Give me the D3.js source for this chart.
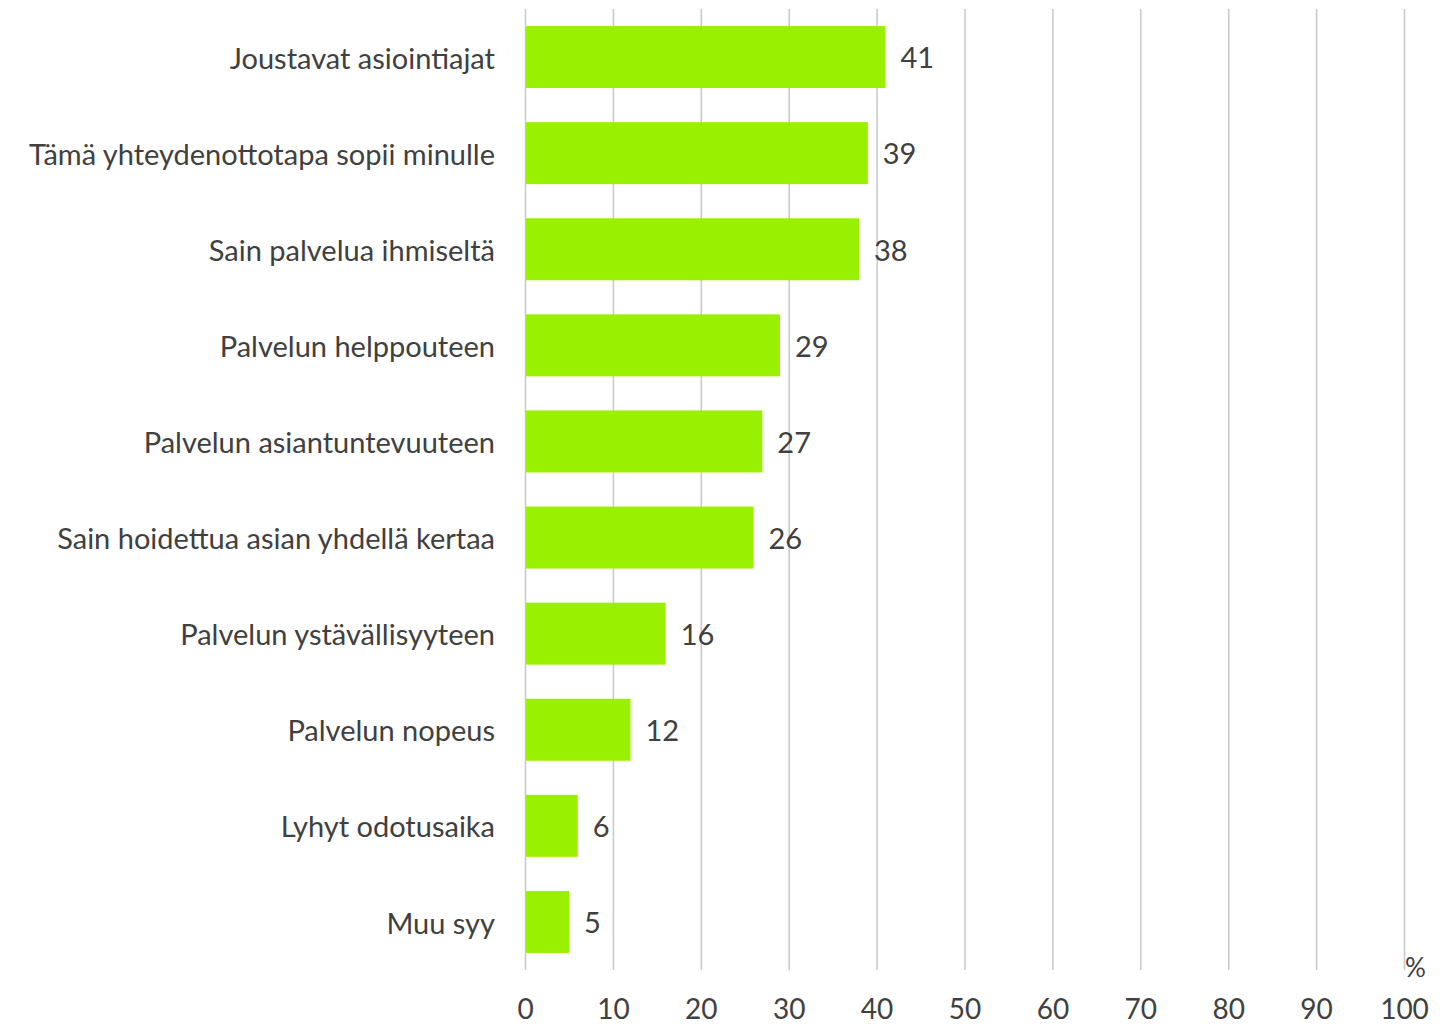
<!DOCTYPE html>
<html>
<head>
<meta charset="utf-8">
<script src="https://cdn.jsdelivr.net/npm/d3@7"></script>
<style>
  body { margin: 0; background: #fff; }
  text { font-family: Lato, "Open Sans", sans-serif; fill: #404040; }
</style>
</head>
<body>
<script>
const categories = [
  'Joustavat asiointiajat',
  'Tämä yhteydenottotapa sopii minulle',
  'Sain palvelua ihmiseltä',
  'Palvelun helppouteen',
  'Palvelun asiantuntevuuteen',
  'Sain hoidettua asian yhdellä kertaa',
  'Palvelun ystävällisyyteen',
  'Palvelun nopeus',
  'Lyhyt odotusaika',
  'Muu syy'
];
const values = [41, 39, 38, 29, 27, 26, 16, 12, 6, 5];
const ticks = [0, 10, 20, 30, 40, 50, 60, 70, 80, 90, 100];

const svgWidth = 1441;
const svgHeight = 1026;
const margin = { top: 9, right: 37, bottom: 56, left: 525 };
const width = svgWidth - margin.left - margin.right;
const height = svgHeight - margin.top - margin.bottom;
const fontSize = 29;

const svg = d3.select('body').append('svg')
  .attr('width', svgWidth)
  .attr('height', svgHeight)
  .append('g')
  .attr('transform', `translate(${margin.left}, ${margin.top})`);

const x = d3.scaleLinear().domain([0, 100]).range([0, width]);
const y = d3.scaleBand().domain(categories).range([0, height]).paddingInner(0.355).paddingOuter(0.1775);

// gridlines
svg.selectAll('.grid')
  .data(ticks)
  .enter()
  .append('line')
  .attr('x1', d => x(d) + 0.5)
  .attr('x2', d => x(d) + 0.5)
  .attr('y1', 0)
  .attr('y2', height)
  .attr('stroke', '#c8c8c8')
  .attr('stroke-width', 1.5);

svg.selectAll('.bar')
  .data(values)
  .enter()
  .append('rect')
  .attr('x', x(0) + 1)
  .attr('y', (d, i) => y(categories[i]))
  .attr('width', d => x(d) - x(0) - 1)
  .attr('height', y.bandwidth())
  .attr('fill', '#99f000');

// value labels
svg.selectAll('.val')
  .data(values)
  .enter()
  .append('text')
  .attr('x', d => x(d) + 15)
  .attr('y', (d, i) => y(categories[i]) + y.bandwidth() / 2 + 4)
  .attr('dominant-baseline', 'middle')
  .style('font-size', fontSize + 'px')
  .text(d => d);

// category labels
const yAxis = svg.append('g').call(d3.axisLeft(y).tickSize(0).tickPadding(30));
yAxis.select('.domain').remove();
yAxis.selectAll('text')
  .attr('fill', '#404040')
  .attr('dy', '0.4em')
  .style('font-family', 'Lato, "Open Sans", sans-serif')
  .style('font-size', fontSize + 'px');

// x axis labels
const xAxis = svg.append('g')
  .attr('transform', `translate(0, ${height})`)
  .call(d3.axisBottom(x).tickValues(ticks).tickSize(0).tickPadding(29));
xAxis.select('.domain').remove();
xAxis.selectAll('text')
  .attr('fill', '#404040')
  .style('font-family', 'Lato, "Open Sans", sans-serif')
  .style('font-size', '28px');

svg.append('text')
  .attr('x', x(100) + 1)
  .attr('y', height + 7)
  .style('font-size', '26px')
  .text('%');
</script>
</body>
</html>
